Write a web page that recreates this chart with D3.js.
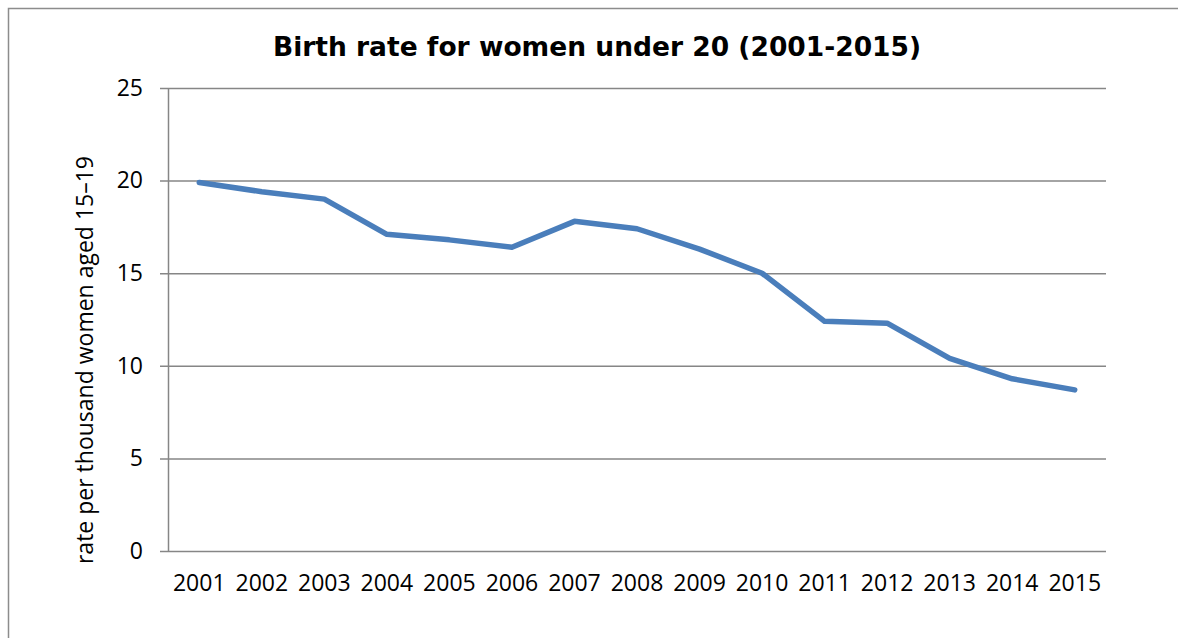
<!DOCTYPE html>
<html>
<head>
<meta charset="utf-8">
<script src="https://cdn.jsdelivr.net/npm/d3@7"></script>
<style>
  body { margin: 0; background: #fff; }
</style>
</head>
<body>
<div id="chart"></div>
<script>
const years = ["2001","2002","2003","2004","2005","2006","2007","2008","2009","2010","2011","2012","2013","2014","2015"];
const rates = [19.9, 19.4, 19.0, 17.1, 16.8, 16.4, 17.8, 17.4, 16.3, 15.0, 12.4, 12.3, 10.4, 9.3, 8.7];
const yTicks = [0, 5, 10, 15, 20, 25];
const title = "Birth rate for women under 20 (2001-2015)";
const yTitle = "rate per thousand women aged 15–19";

const W = 1178, H = 638;
const margin = {top: 88, right: 72, bottom: 87, left: 168};
const width = W - margin.left - margin.right,
      height = H - margin.top - margin.bottom;

const svg = d3.select("#chart").append("svg")
    .attr("width", W).attr("height", H);

// outer chart border
svg.append("rect")
    .attr("x", 8.5).attr("y", 8.5)
    .attr("width", W + 10).attr("height", H + 10)
    .attr("fill", "none").attr("stroke", "#8c8c8c").attr("stroke-width", 1.5);

svg.append("text")
    .attr("x", 597).attr("y", 56)
    .attr("text-anchor", "middle")
    .attr("font-family", "DejaVu Sans")
    .attr("font-weight", "bold")
    .attr("font-size", 26.5)
    .attr("fill", "#000")
    .text(title);

const g = svg.append("g")
    .attr("transform", "translate(" + margin.left + "," + margin.top + ")");

const x = d3.scaleBand().domain(years).range([0, width]);
const y = d3.scaleLinear().domain([0, 25]).range([height, 0]);

// gridlines + y axis
const yAxis = g.append("g")
    .call(d3.axisLeft(y).tickValues(yTicks).tickSize(-width).tickSizeOuter(0).tickPadding(25));
yAxis.select(".domain").remove();
yAxis.selectAll(".tick line")
    .attr("x1", -8)
    .attr("stroke", "#868686").attr("stroke-width", 1.5);
yAxis.selectAll(".tick text")
    .attr("font-family", "Open Sans").attr("font-size", 23).attr("fill", "#000");

g.append("line")
    .attr("x1", 0.5).attr("x2", 0.5).attr("y1", 0).attr("y2", height)
    .attr("stroke", "#868686").attr("stroke-width", 1.5);

// x axis labels
const xAxis = g.append("g")
    .attr("transform", "translate(0," + height + ")")
    .call(d3.axisBottom(x).tickSize(0).tickPadding(24));
xAxis.select(".domain").remove();
xAxis.selectAll(".tick text")
    .attr("font-family", "Open Sans").attr("font-size", 23).attr("fill", "#000");

svg.append("text")
    .attr("transform", "translate(93,360) rotate(-90)")
    .attr("text-anchor", "middle")
    .attr("font-family", "Open Sans").attr("font-size", 23).attr("fill", "#000")
    .text(yTitle);

const line = d3.line()
    .x((d, i) => x(years[i]) + x.bandwidth() / 2)
    .y(d => y(d));

g.append("path")
    .datum(rates)
    .attr("fill", "none")
    .attr("stroke", "#4a7ebb")
    .attr("stroke-width", 5.5)
    .attr("stroke-linejoin", "round")
    .attr("stroke-linecap", "round")
    .attr("d", line);
</script>
</body>
</html>
